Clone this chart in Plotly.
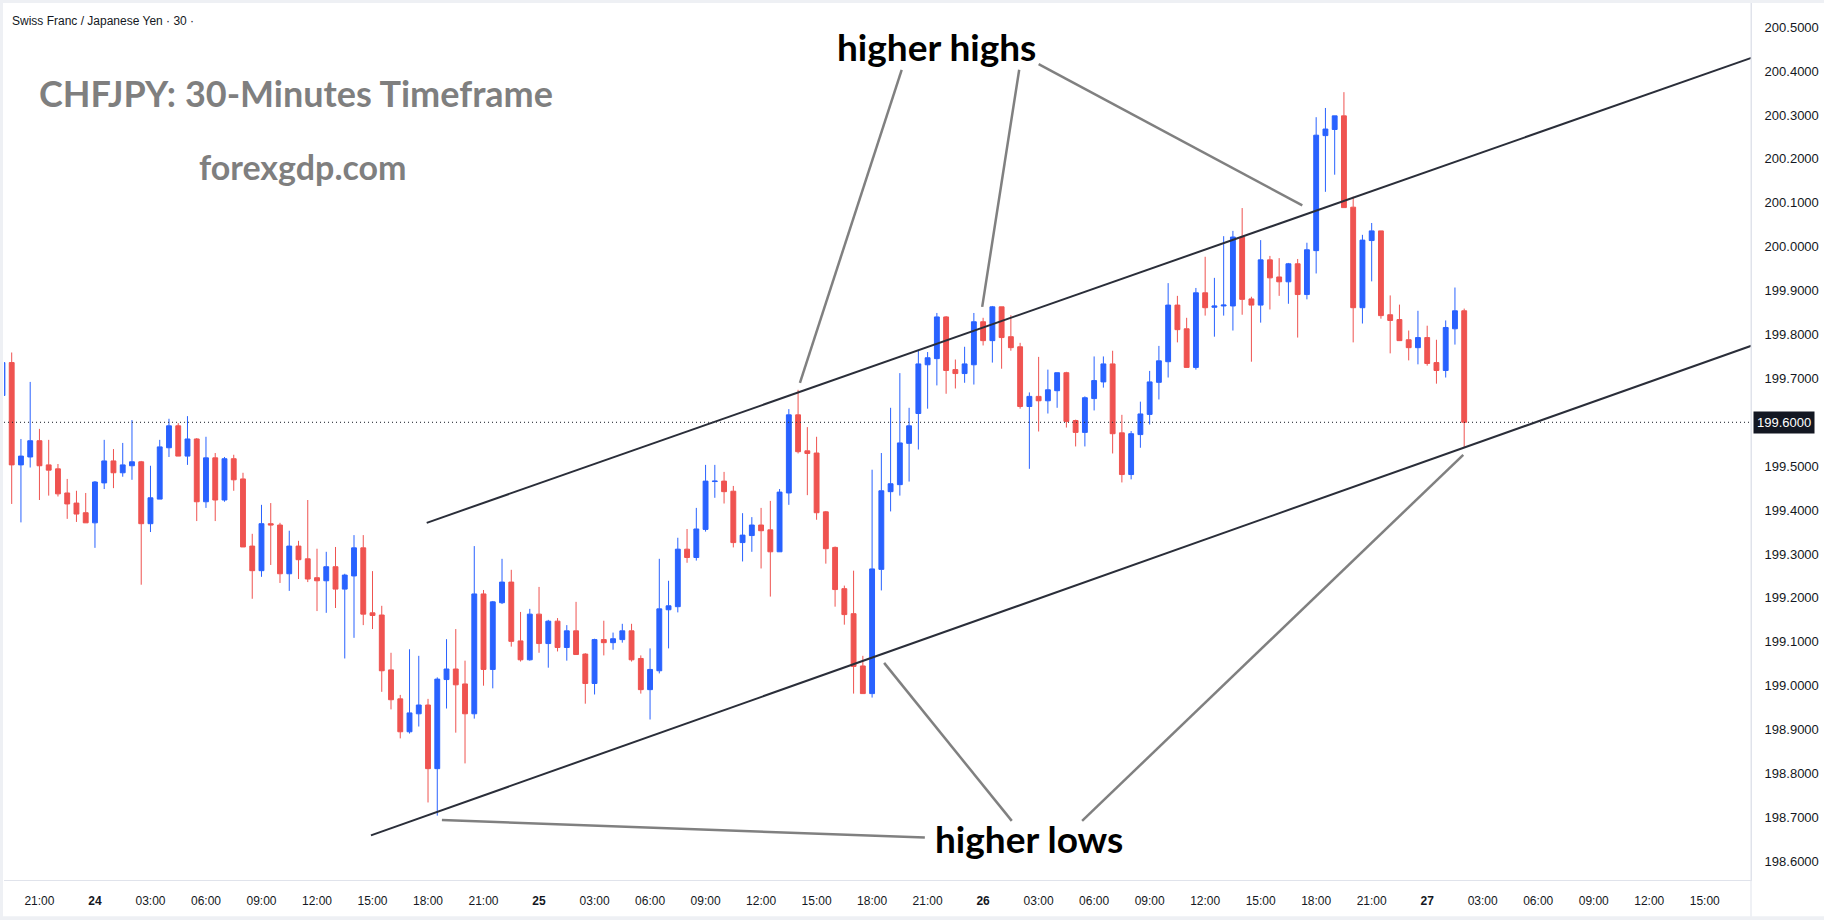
import plotly.graph_objects as go
import pandas as pd

# ---------------- data (30-minute CHFJPY candles) ----------------
opens = [199.661,
    199.736, 199.503, 199.521, 199.558, 199.503, 199.494, 199.439, 199.416, 199.394, 199.371,
    199.462, 199.512, 199.485, 199.501, 199.510, 199.369, 199.425, 199.542, 199.592, 199.523,
    199.562, 199.419, 199.519, 199.423, 199.517, 199.471, 199.318, 199.262, 199.369, 199.366,
    199.255, 199.318, 199.289, 199.246, 199.239, 199.271, 199.220, 199.250, 199.314, 199.166,
    199.161, 199.036, 198.970, 198.895, 198.936, 198.956, 198.811, 199.014, 199.038, 199.004,
    198.936, 199.209, 199.037, 199.189, 199.236, 199.102, 199.059, 199.163, 199.096, 199.147,
    199.087, 199.125, 199.072, 199.005, 199.105, 199.098, 199.105, 199.125, 199.062, 198.991,
    199.034, 199.173, 199.180, 199.311, 199.292, 199.356, 199.465, 199.466, 199.443, 199.326,
    199.342, 199.366, 199.355, 199.305, 199.439, 199.617, 199.535, 199.530, 199.396, 199.315,
    199.221, 199.164, 199.045, 198.982, 199.265, 199.442, 199.458, 199.552, 199.620, 199.731,
    199.745, 199.840, 199.720, 199.711, 199.731, 199.829, 199.786, 199.863, 199.795, 199.772,
    199.636, 199.659, 199.649, 199.672, 199.713, 199.604, 199.577, 199.654, 199.692, 199.733,
    199.576, 199.481, 199.572, 199.618, 199.691, 199.738, 199.867, 199.813, 199.725, 199.895,
    199.862, 199.865, 199.865, 200.022, 199.881, 199.867, 199.970, 199.931, 199.920, 199.961,
    199.891, 199.991, 200.253, 200.267, 200.298, 200.090, 199.861, 200.014, 200.036, 199.845,
    199.834, 199.788, 199.770, 199.793, 199.736, 199.718, 199.813, 199.854]
highs = [199.750,
    199.759, 199.562, 199.692, 199.585, 199.560, 199.505, 199.471, 199.444, 199.439, 199.466,
    199.560, 199.539, 199.553, 199.605, 199.512, 199.501, 199.560, 199.608, 199.598, 199.614,
    199.564, 199.567, 199.530, 199.521, 199.526, 199.485, 199.346, 199.412, 199.416, 199.371,
    199.353, 199.330, 199.423, 199.312, 199.305, 199.316, 199.255, 199.343, 199.343, 199.261,
    199.182, 199.075, 198.979, 199.083, 199.068, 198.970, 199.019, 199.106, 199.129, 199.057,
    199.318, 199.218, 199.193, 199.289, 199.264, 199.168, 199.175, 199.225, 199.150, 199.154,
    199.138, 199.191, 199.074, 199.107, 199.148, 199.121, 199.141, 199.141, 199.069, 199.085,
    199.289, 199.239, 199.337, 199.357, 199.405, 199.503, 199.503, 199.487, 199.455, 199.393,
    199.384, 199.405, 199.421, 199.448, 199.630, 199.674, 199.589, 199.567, 199.398, 199.317,
    199.228, 199.262, 199.068, 199.492, 199.530, 199.633, 199.712, 199.633, 199.765, 199.760,
    199.849, 199.842, 199.743, 199.772, 199.849, 199.838, 199.865, 199.863, 199.844, 199.781,
    199.668, 199.749, 199.720, 199.713, 199.715, 199.606, 199.659, 199.750, 199.750, 199.763,
    199.617, 199.580, 199.647, 199.717, 199.774, 199.917, 199.888, 199.838, 199.906, 199.977,
    199.929, 200.024, 200.036, 200.088, 199.886, 200.015, 199.979, 199.974, 199.963, 199.972,
    200.009, 200.295, 200.316, 200.298, 200.352, 200.114, 200.027, 200.054, 200.036, 199.889,
    199.868, 199.809, 199.854, 199.820, 199.788, 199.832, 199.907, 199.859]
lows = [199.640,
    199.414, 199.372, 199.497, 199.423, 199.433, 199.431, 199.380, 199.373, 199.371, 199.314,
    199.448, 199.450, 199.476, 199.469, 199.230, 199.350, 199.425, 199.521, 199.523, 199.503,
    199.375, 199.405, 199.375, 199.419, 199.444, 199.316, 199.198, 199.248, 199.275, 199.234,
    199.216, 199.243, 199.236, 199.170, 199.166, 199.177, 199.062, 199.109, 199.138, 199.129,
    198.986, 198.946, 198.880, 198.891, 198.907, 198.734, 198.704, 198.948, 198.893, 198.823,
    198.925, 199.000, 198.994, 199.186, 199.089, 199.055, 199.057, 199.075, 199.041, 199.078,
    199.057, 199.071, 198.959, 198.980, 199.069, 199.082, 199.098, 199.055, 198.982, 198.923,
    199.028, 199.085, 199.167, 199.280, 199.285, 199.351, 199.428, 199.415, 199.315, 199.283,
    199.305, 199.267, 199.203, 199.305, 199.412, 199.529, 199.434, 199.378, 199.278, 199.180,
    199.139, 198.982, 198.982, 198.973, 199.217, 199.397, 199.433, 199.465, 199.538, 199.631,
    199.684, 199.665, 199.677, 199.690, 199.686, 199.775, 199.736, 199.722, 199.763, 199.631,
    199.494, 199.579, 199.620, 199.633, 199.588, 199.545, 199.545, 199.627, 199.679, 199.529,
    199.463, 199.470, 199.542, 199.595, 199.652, 199.702, 199.782, 199.725, 199.720, 199.843,
    199.795, 199.843, 199.809, 199.845, 199.738, 199.827, 199.857, 199.888, 199.870, 199.793,
    199.880, 199.939, 200.125, 200.164, 200.089, 199.782, 199.825, 199.921, 199.836, 199.757,
    199.786, 199.741, 199.732, 199.729, 199.688, 199.702, 199.777, 199.542]
closes = [199.736,
    199.503, 199.523, 199.558, 199.501, 199.491, 199.437, 199.414, 199.391, 199.371, 199.464,
    199.512, 199.485, 199.503, 199.510, 199.369, 199.428, 199.544, 199.592, 199.523, 199.562,
    199.419, 199.519, 199.423, 199.517, 199.469, 199.316, 199.262, 199.369, 199.366, 199.255,
    199.318, 199.287, 199.243, 199.239, 199.271, 199.220, 199.252, 199.314, 199.163, 199.160,
    199.034, 198.968, 198.895, 198.938, 198.956, 198.811, 199.015, 199.038, 199.002, 198.936,
    199.209, 199.037, 199.191, 199.236, 199.101, 199.059, 199.163, 199.096, 199.147, 199.087,
    199.125, 199.071, 199.005, 199.105, 199.098, 199.107, 199.125, 199.059, 198.991, 199.037,
    199.175, 199.182, 199.311, 199.292, 199.357, 199.466, 199.466, 199.442, 199.326, 199.343,
    199.366, 199.353, 199.305, 199.441, 199.617, 199.533, 199.529, 199.394, 199.312, 199.219,
    199.162, 199.044, 198.982, 199.266, 199.444, 199.460, 199.553, 199.592, 199.733, 199.747,
    199.840, 199.718, 199.711, 199.733, 199.829, 199.786, 199.863, 199.793, 199.770, 199.636,
    199.659, 199.649, 199.674, 199.713, 199.602, 199.577, 199.656, 199.695, 199.733, 199.574,
    199.481, 199.574, 199.619, 199.692, 199.740, 199.867, 199.811, 199.725, 199.895, 199.861,
    199.865, 199.867, 200.022, 199.880, 199.867, 199.970, 199.929, 199.920, 199.961, 199.891,
    199.993, 200.254, 200.268, 200.298, 200.089, 199.861, 200.015, 200.036, 199.843, 199.832,
    199.786, 199.770, 199.793, 199.734, 199.718, 199.816, 199.854, 199.600]
assert len(opens) == len(highs) == len(lows) == len(closes)

times = pd.date_range("2026-02-23 19:00", periods=len(opens), freq="30min")

tick_times = pd.date_range("2026-02-23 21:00", "2026-02-27 15:00", freq="3h")
tick_labels = ["21:00", "<b>24</b>", "03:00", "06:00", "09:00", "12:00", "15:00", "18:00",
               "21:00", "<b>25</b>", "03:00", "06:00", "09:00", "12:00", "15:00", "18:00",
               "21:00", "<b>26</b>", "03:00", "06:00", "09:00", "12:00", "15:00", "18:00",
               "21:00", "<b>27</b>", "03:00", "06:00", "09:00", "12:00", "15:00"]

price_ticks = [200.5, 200.4, 200.3, 200.2, 200.1, 200.0, 199.9, 199.8, 199.7,
               199.5, 199.4, 199.3, 199.2, 199.1, 199.0, 198.9, 198.8, 198.7, 198.6]
price_labels = [f"{v:.4f}" for v in price_ticks]
last_price = 199.6

# drawing anchors: (candle index from 23rd 19:30, price)
channel_upper = [(44.86, 199.371), (196.0, 200.489)]
channel_lower = [(38.83, 198.659), (196.0, 199.834)]
hh_lines = [[(96.2, 200.403), (85.2, 199.690)],
            [(108.9, 200.403), (104.9, 199.863)],
            [(111.0, 200.416), (139.5, 200.094)]]
hl_lines = [[(46.5, 198.694), (98.7, 198.654)],
            [(94.3, 199.052), (108.1, 198.692)],
            [(156.9, 199.526), (115.7, 198.692)]]
hh_text = (99.96, 200.456)
hl_text = (110.0, 198.651)

T0 = pd.Timestamp("2026-02-23 19:30")


def at(k):
    return T0 + pd.Timedelta(minutes=30 * k)


UP = "#2962ff"
DOWN = "#ef5350"
TXT = "#131722"
BORDER = "#e0e3eb"
FRAME = "#eef0f4"

fig = go.Figure(go.Candlestick(
    x=times, open=opens, high=highs, low=lows, close=closes,
    increasing=dict(line=dict(color=UP, width=1), fillcolor=UP),
    decreasing=dict(line=dict(color=DOWN, width=1), fillcolor=DOWN),
    whiskerwidth=0, showlegend=False, hoverinfo="skip",
))

shapes = []
# last price dotted line
shapes.append(dict(type="line", xref="paper", yref="y", x0=0, x1=1, y0=last_price, y1=last_price,
                   line=dict(color=TXT, width=1, dash="1px,3px"), layer="above"))
for (a, b) in [channel_upper, channel_lower]:
    shapes.append(dict(type="line", xref="x", yref="y", x0=at(a[0]), y0=a[1], x1=at(b[0]), y1=b[1],
                       line=dict(color="#2a2e39", width=2), layer="above"))
for seg in hh_lines + hl_lines:
    a, b = seg
    shapes.append(dict(type="line", xref="x", yref="y", x0=at(a[0]), y0=a[1], x1=at(b[0]), y1=b[1],
                       line=dict(color="#808080", width=2.5), layer="above"))
# price-scale separator running down through the time scale
shapes.append(dict(type="line", xref="paper", yref="paper", x0=1, x1=1, y0=1, y1=-0.042,
                   line=dict(color=BORDER, width=1)))
# thin screenshot frame (left, top, bottom)
shapes.append(dict(type="line", xref="paper", yref="paper", x0=-0.0014, x1=-0.0014, y0=1.004, y1=-0.046,
                   line=dict(color=FRAME, width=3)))
shapes.append(dict(type="line", xref="paper", yref="paper", x0=-0.003, x1=1.042, y0=1.0017, y1=1.0017,
                   line=dict(color=FRAME, width=3)))
shapes.append(dict(type="line", xref="paper", yref="paper", x0=-0.003, x1=1.042, y0=-0.0435, y1=-0.0435,
                   line=dict(color=FRAME, width=4)))

annotations = [
    dict(xref="paper", yref="paper", x=0.0034, y=0.9795, xanchor="left", yanchor="middle",
         text="Swiss Franc / Japanese Yen · 30 ·", showarrow=False,
         font=dict(family="Liberation Sans", size=12, color=TXT)),
    dict(xref="paper", yref="paper", x=0.1671, y=0.8974, xanchor="center", yanchor="middle",
         text="<b>CHFJPY: 30-Minutes Timeframe</b>", showarrow=False,
         font=dict(family="Lato", size=36, color="#7f7f7f")),
    dict(xref="paper", yref="paper", x=0.1714, y=0.8141, xanchor="center", yanchor="middle",
         text="<b>forexgdp.com</b>", showarrow=False,
         font=dict(family="Lato", size=34, color="#7f7f7f")),
    dict(xref="x", yref="y", x=at(hh_text[0]), y=hh_text[1], xanchor="center", yanchor="middle",
         text="<b>higher highs</b>", showarrow=False,
         font=dict(family="Lato", size=37, color="#000000")),
    dict(xref="x", yref="y", x=at(hl_text[0]), y=hl_text[1], xanchor="center", yanchor="middle",
         text="<b>higher lows</b>", showarrow=False,
         font=dict(family="Lato", size=37, color="#000000")),
    dict(xref="paper", yref="y", x=1, y=last_price, xanchor="left", yanchor="middle", xshift=2,
         text=f"{last_price:.4f}", showarrow=False, bgcolor=TXT, borderpad=3,
         font=dict(family="Liberation Sans", size=13, color="#ffffff")),
]

fig.update_layout(
    width=1824, height=920,
    margin=dict(l=4, r=73, t=3, b=40),
    paper_bgcolor="#ffffff", plot_bgcolor="#ffffff",
    boxgap=0.25,
    shapes=shapes, annotations=annotations,
    xaxis=dict(
        type="date", rangeslider=dict(visible=False),
        range=[at(-0.832), at(188.0)],
        tickmode="array", tickvals=list(tick_times), ticktext=tick_labels,
        showgrid=False, zeroline=False, showline=True, linecolor=BORDER, linewidth=1,
        ticks="", ticklabelstandoff=10,
        tickfont=dict(family="Liberation Sans", size=12, color=TXT),
    ),
    yaxis=dict(
        side="right", range=[198.5574, 200.5551],
        tickmode="array", tickvals=price_ticks, ticktext=price_labels,
        showgrid=False, zeroline=False, showline=True, linecolor=BORDER, linewidth=1,
        ticks="", ticklabelstandoff=10,
        tickfont=dict(family="Liberation Sans", size=13, color=TXT),
    ),
)

fig.write_html("out.html", post_script="document.body.style.margin='0';")
